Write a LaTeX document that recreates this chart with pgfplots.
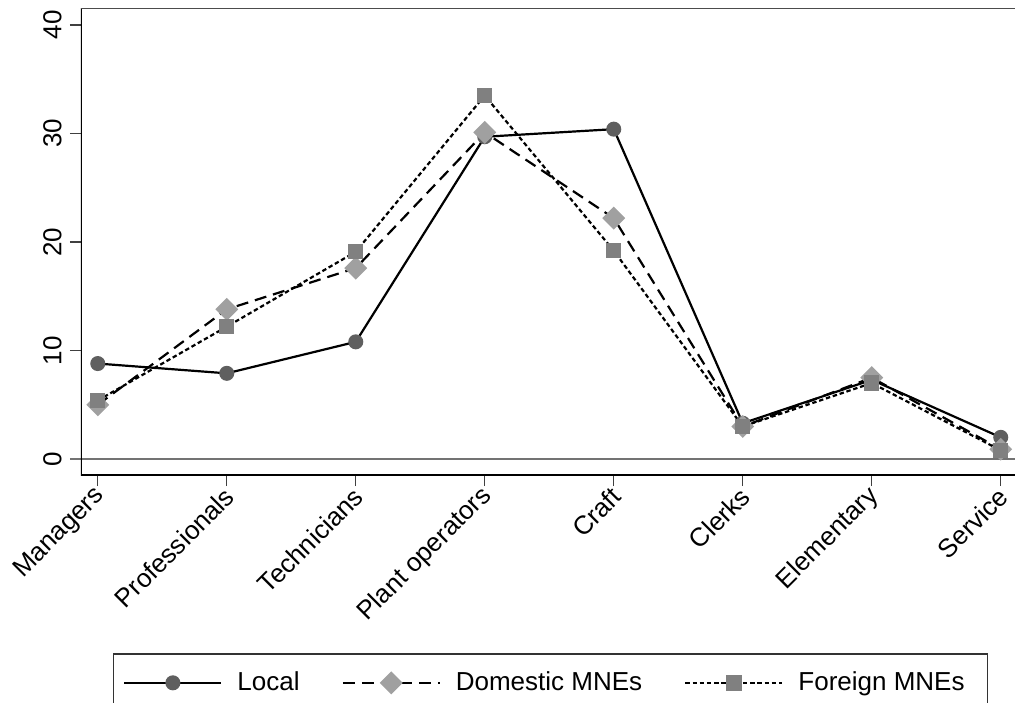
\documentclass[border=0pt]{standalone}
\usepackage{fontspec}
\setmainfont{Liberation Sans}
\usepackage{pgfplots}
\pgfplotsset{compat=1.18}
\definecolor{mlocal}{HTML}{5F5F5F}
\definecolor{mdom}{HTML}{A0A0A0}
\definecolor{mfor}{HTML}{808080}
\newcommand{\lfont}{\fontsize{13}{15.6}\selectfont}
\begin{document}
\begin{tikzpicture}
\begin{axis}[
  at={(0pt,0pt)}, anchor=south west,
  scale only axis, width=468.25pt, height=233.25pt,
  xmin=0.87, xmax=8.13, ymin=-1.47, ymax=41.52,
  xtick={1,...,8},
  xticklabels={Managers,Professionals,Technicians,Plant operators,Craft,Clerks,Elementary,Service},
  ytick={10,20,30,40},
  extra y ticks={0}, extra y tick labels={0},
  extra y tick style={grid=major, major grid style={color=black!55, line width=1pt}, major tick style={color=black!55, line width=1pt}},
  xtick pos=bottom, ytick pos=left, tick align=outside,
  major tick length=5.5pt,
  tick style={color=black!75, line width=0.6pt},
  axis line style={draw=none},
  /pgf/number format/assume math mode=true,
  tick label style={font=\lfont},
  yticklabel style={xshift=-4pt, rotate=90, anchor=south, inner sep=0pt},
  xticklabel style={xshift=1.5pt, yshift=-3pt, rotate=45, anchor=east, inner sep=0pt},
  legend style={at={(0.03385,-0.3822)}, anchor=north west, draw=black!80, line width=0.6pt, font=\lfont, legend columns=3, inner xsep=5pt, inner ysep=7pt, cells={inner sep=0pt},
    /tikz/every odd column/.append style={column sep=5.5pt},
    /tikz/every even column/.append style={column sep=19pt}},
  legend image code/.code={\draw[mark repeat=2, mark phase=2, #1] plot coordinates {(0pt,0pt) (24.25pt,0pt) (48.5pt,0pt)};},
]
\addplot[black, line width=1.1pt, mark=*, mark size=3.2pt, mark options={solid, fill=mlocal, draw=mlocal}]
  coordinates {(1,8.8)(2,7.9)(3,10.8)(4,29.7)(5,30.4)(6,3.3)(7,7.3)(8,2.0)};
\addlegendentry{Local}
\addplot[black, line width=1.1pt, dash pattern=on 6pt off 3.5pt, mark=square*, mark size=3.5pt, mark options={solid, rotate=45, fill=mdom, draw=mdom}]
  coordinates {(1,5.0)(2,13.8)(3,17.6)(4,30.1)(5,22.2)(6,3.0)(7,7.5)(8,0.9)};
\addlegendentry{Domestic MNEs}
\addplot[black, line width=1.1pt, dash pattern=on 2.2pt off 1.4pt, mark=square*, mark size=3.3pt, mark options={solid, fill=mfor, draw=mfor}]
  coordinates {(1,5.4)(2,12.2)(3,19.1)(4,33.5)(5,19.2)(6,3.0)(7,7.0)(8,0.8)};
\addlegendentry{Foreign MNEs\hspace*{4.5pt}\mbox{}}
\draw[black, line width=1pt] (rel axis cs:0,1) -- (rel axis cs:0,0) -- (rel axis cs:1,0);
\draw[black!70, line width=1pt] (rel axis cs:0,1) -- (rel axis cs:1,1);
\end{axis}
\pgfresetboundingbox
\useasboundingbox (-40.5pt,-113.5pt) rectangle (467pt,237.5pt);
\end{tikzpicture}
\end{document}
